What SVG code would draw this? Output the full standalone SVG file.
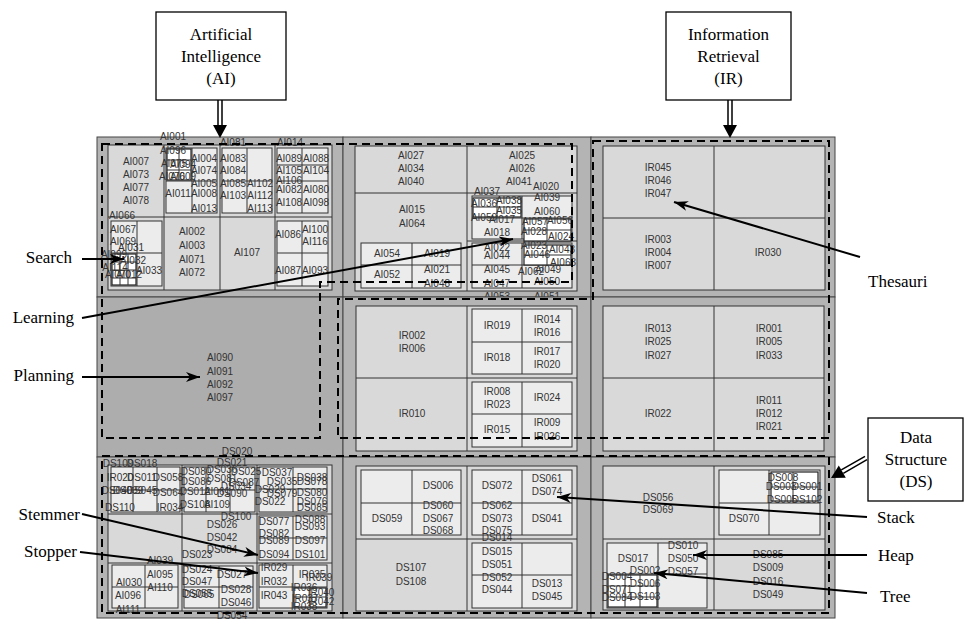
<svg xmlns="http://www.w3.org/2000/svg" width="965" height="619" viewBox="0 0 965 619">
<defs>
<style>
.c{fill:#b4b4b4;stroke:#444;stroke-width:1}
.q{fill:#d9d9d9;stroke:#333;stroke-width:1}
.s{fill:#ececec;stroke:#333;stroke-width:1}
.w{fill:#fff;stroke:#222;stroke-width:1.2}
.ln{fill:none;stroke:#333;stroke-width:1}
.t{font-family:"Liberation Sans",Arial,sans-serif;font-size:10px;fill:#333;text-anchor:middle}
.b{font-family:"Liberation Serif","Times New Roman",serif;font-size:17px;fill:#000}
.m{text-anchor:middle}
.e{text-anchor:end}
.box{fill:#fff;stroke:#000;stroke-width:1.3}
.dash{fill:none;stroke:#000;stroke-width:2;stroke-dasharray:8 5}
.con{fill:none;stroke:#000;stroke-width:2}
.dbl{fill:none;stroke:#000;stroke-width:1.5}
</style>
<marker id="ah" viewBox="0 0 14 10" refX="14" refY="5" markerWidth="14" markerHeight="10" markerUnits="userSpaceOnUse" orient="auto"><path d="M0,0 L14,5 L0,10 L4,5 z" fill="#000"/></marker>
</defs>
<rect width="965" height="619" fill="#fff"/>

<g id="label-ai">
<rect class="box" x="156" y="12" width="130" height="88"/>
<text class="b m" x="221" y="40">Artificial</text>
<text class="b m" x="221" y="62">Intelligence</text>
<text class="b m" x="221" y="84">(AI)</text>
</g>
<g id="label-ir">
<rect class="box" x="666" y="12" width="125" height="88"/>
<text class="b m" x="728.5" y="40">Information</text>
<text class="b m" x="728.5" y="62">Retrieval</text>
<text class="b m" x="728.5" y="84">(IR)</text>
</g>
<g id="label-ds">
<rect class="box" x="868" y="418" width="95" height="83"/>
<text class="b m" x="916" y="443">Data</text>
<text class="b m" x="916" y="465">Structure</text>
<text class="b m" x="916" y="487">(DS)</text>
</g>

<g id="cell-tl">
<rect class="c" x="97" y="137" width="246" height="160"/>
<rect class="q" x="108" y="145" width="224" height="145"/>
<path class="ln" d="M164,145V290M220,145V290M275,145V290M108,217H332"/>
<rect class="s" x="166" y="148" width="51" height="65"/>
<path class="ln" d="M192,148V213M166,181H217"/>
<rect class="w" x="167" y="149" width="24" height="31"/>
<path class="ln" d="M179,149V180M167,160H191M167,170H191"/>
<rect class="s" x="222" y="148" width="50" height="65"/>
<path class="ln" d="M247,148V213M222,181H272"/>
<rect class="s" x="277" y="148" width="51" height="65"/>
<path class="ln" d="M302,148V213M277,165H328M277,181H328"/>
<rect class="s" x="111" y="221" width="51" height="65"/>
<path class="ln" d="M137,221V286M111,253H162"/>
<rect class="w" x="112" y="254" width="24" height="31"/>
<path class="ln" d="M120,254V285M128,254V285M112,262H136M112,270H136M112,278H136"/>
<rect class="s" x="277" y="221" width="51" height="65"/>
<path class="ln" d="M302,221V286M277,253H328"/>
<text class="t" x="136" y="165">AI007</text><text class="t" x="136" y="178">AI073</text><text class="t" x="136" y="191">AI077</text><text class="t" x="136" y="204">AI078</text>
<text class="t" x="173" y="140">AI001</text><text class="t" x="173" y="154">AI096</text><text class="t" x="174" y="167">AI075</text><text class="t" x="183" y="168">AI094</text><text class="t" x="172" y="180">AI076</text><text class="t" x="183" y="180">AI009</text>
<text class="t" x="204" y="162">AI004</text><text class="t" x="204" y="174">AI074</text><text class="t" x="204" y="187">AI005</text><text class="t" x="178" y="197">AI011</text><text class="t" x="204" y="197">AI008</text><text class="t" x="204" y="212">AI013</text>
<text class="t" x="233" y="146">AI081</text><text class="t" x="233" y="162">AI083</text><text class="t" x="233" y="174">AI084</text><text class="t" x="233" y="187">AI085</text><text class="t" x="260" y="187">AI102</text><text class="t" x="233" y="199">AI103</text><text class="t" x="260" y="199">AI112</text><text class="t" x="260" y="212">AI113</text>
<text class="t" x="290" y="146">AI014</text><text class="t" x="289" y="162">AI089</text><text class="t" x="316" y="162">AI088</text><text class="t" x="289" y="174">AI105</text><text class="t" x="316" y="174">AI104</text><text class="t" x="289" y="184">AI106</text><text class="t" x="289" y="193">AI082</text><text class="t" x="316" y="193">AI080</text><text class="t" x="289" y="206">AI108</text><text class="t" x="316" y="206">AI098</text>
<text class="t" x="122" y="219">AI066</text><text class="t" x="123" y="233">AI067</text><text class="t" x="123" y="245">AI069</text><text class="t" x="131" y="251">AI031</text><text class="t" x="114" y="258">AI099</text><text class="t" x="133" y="264">AI032</text><text class="t" x="115" y="271">AI114</text><text class="t" x="149" y="274">AI033</text><text class="t" x="118" y="278">AI070</text><text class="t" x="129" y="278">AI012</text>
<text class="t" x="192" y="235">AI002</text><text class="t" x="192" y="249">AI003</text><text class="t" x="192" y="263">AI071</text><text class="t" x="192" y="276">AI072</text>
<text class="t" x="247" y="256">AI107</text>
<text class="t" x="288" y="238">AI086</text><text class="t" x="315" y="233">AI100</text><text class="t" x="315" y="245">AI116</text><text class="t" x="288" y="274">AI087</text><text class="t" x="315" y="274">AI093</text>
</g>

<g id="cell-tm">
<rect class="c" x="343" y="137" width="248" height="160"/>
<rect class="q" x="355" y="146" width="222" height="145"/>
<path class="ln" d="M467,146V291M355,193H577M467,241H577"/>
<rect class="s" x="361" y="243" width="100" height="45"/>
<path class="ln" d="M412,243V288M361,265H461"/>
<rect class="s" x="472" y="196" width="100" height="43"/>
<path class="ln" d="M522,196V239M472,218H572"/>
<rect class="w" x="473" y="198" width="48" height="19"/>
<path class="ln" d="M497,198V217M473,207H521"/>
<rect class="w" x="524" y="219" width="47" height="22"/>
<path class="ln" d="M547,219V241M524,230H571"/>
<rect class="s" x="472" y="243" width="100" height="45"/>
<path class="ln" d="M522,243V288M472,265H572"/>
<rect class="w" x="524" y="245" width="47" height="20"/>
<path class="ln" d="M547,245V265M524,255H571"/>
<text class="t" x="411" y="159">AI027</text><text class="t" x="411" y="172">AI034</text><text class="t" x="411" y="185">AI040</text>
<text class="t" x="522" y="159">AI025</text><text class="t" x="522" y="172">AI026</text><text class="t" x="519" y="185">AI041</text><text class="t" x="546" y="190">AI020</text>
<text class="t" x="412" y="213">AI015</text><text class="t" x="412" y="227">AI064</text>
<text class="t" x="387" y="257">AI054</text><text class="t" x="437" y="257">AI019</text><text class="t" x="387" y="278">AI052</text><text class="t" x="437" y="273">AI021</text><text class="t" x="437" y="287">AI048</text>
<text class="t" x="487" y="195">AI037</text><text class="t" x="484" y="207">AI036</text><text class="t" x="509" y="204">AI038</text><text class="t" x="509" y="214">AI035</text><text class="t" x="484" y="221">AI059</text><text class="t" x="502" y="223">AI017</text><text class="t" x="497" y="236">AI018</text>
<text class="t" x="547" y="201">AI039</text><text class="t" x="547" y="215">AI060</text>
<text class="t" x="535" y="225">AI057</text><text class="t" x="560" y="224">AI056</text><text class="t" x="534" y="235">AI028</text><text class="t" x="561" y="240">AI024</text>
<text class="t" x="497" y="251">AI022</text><text class="t" x="497" y="259">AI044</text><text class="t" x="497" y="273">AI045</text><text class="t" x="497" y="287">AI047</text><text class="t" x="497" y="300">AI053</text>
<text class="t" x="534" y="249">AI023</text><text class="t" x="562" y="253">AI043</text><text class="t" x="537" y="258">AI046</text><text class="t" x="563" y="266">AI063</text><text class="t" x="531" y="275">AI062</text><text class="t" x="548" y="273">AI049</text><text class="t" x="547" y="285">AI050</text><text class="t" x="547" y="300">AI051</text>
</g>

<g id="cell-tr">
<rect class="c" x="591" y="137" width="244" height="160"/>
<rect class="q" x="603" y="146" width="222" height="144"/>
<path class="ln" d="M714,146V290M603,218H825"/>
<text class="t" x="658" y="171">IR045</text><text class="t" x="658" y="184">IR046</text><text class="t" x="658" y="197">IR047</text>
<text class="t" x="658" y="243">IR003</text><text class="t" x="658" y="256">IR004</text><text class="t" x="658" y="269">IR007</text>
<text class="t" x="768" y="256">IR030</text>
</g>

<g id="cell-ml">
<rect class="c" x="97" y="297" width="246" height="160" style="fill:#adadad"/>
<text class="t" x="220" y="361">AI090</text><text class="t" x="220" y="375">AI091</text><text class="t" x="220" y="388">AI092</text><text class="t" x="220" y="401">AI097</text>
</g>

<g id="cell-mm">
<rect class="c" x="343" y="297" width="248" height="160"/>
<rect class="q" x="356" y="306" width="221" height="145"/>
<path class="ln" d="M467,306V451M356,378H577"/>
<rect class="s" x="472" y="309" width="100" height="65"/>
<path class="ln" d="M522,309V374M472,342H572"/>
<rect class="s" x="472" y="382" width="100" height="65"/>
<path class="ln" d="M522,382V447M472,414H572"/>
<text class="t" x="412" y="339">IR002</text><text class="t" x="412" y="352">IR006</text>
<text class="t" x="412" y="417">IR010</text>
<text class="t" x="497" y="329">IR019</text><text class="t" x="547" y="323">IR014</text><text class="t" x="547" y="336">IR016</text>
<text class="t" x="497" y="361">IR018</text><text class="t" x="547" y="355">IR017</text><text class="t" x="547" y="368">IR020</text>
<text class="t" x="497" y="395">IR008</text><text class="t" x="497" y="408">IR023</text><text class="t" x="547" y="401">IR024</text>
<text class="t" x="497" y="433">IR015</text><text class="t" x="547" y="426">IR009</text><text class="t" x="547" y="440">IR026</text>
</g>

<g id="cell-mr">
<rect class="c" x="591" y="297" width="244" height="160"/>
<rect class="q" x="603" y="306" width="221" height="145"/>
<path class="ln" d="M714,306V451M603,378H824"/>
<text class="t" x="658" y="332">IR013</text><text class="t" x="658" y="345">IR025</text><text class="t" x="658" y="359">IR027</text>
<text class="t" x="769" y="332">IR001</text><text class="t" x="769" y="345">IR005</text><text class="t" x="769" y="359">IR033</text>
<text class="t" x="658" y="417">IR022</text>
<text class="t" x="769" y="404">IR011</text><text class="t" x="769" y="417">IR012</text><text class="t" x="769" y="430">IR021</text>
</g>

<g id="cell-bl">
<rect class="c" x="97" y="457" width="246" height="161"/>
<rect class="q" x="108" y="465" width="224" height="146"/>
<path class="ln" d="M182,465V611M257,465V611M108,514H332M108,563H332"/>
<rect class="s" x="111" y="467" width="69" height="45"/>
<path class="ln" d="M133,467V512M157,467V512M111,490H180"/>
<rect class="s" x="112" y="565" width="66" height="43"/>
<path class="ln" d="M145,565V608M112,587H178"/>
<rect class="s" x="184" y="467" width="71" height="45"/>
<path class="ln" d="M206,467V512M230,467V512M184,490H255"/>
<rect class="s" x="184" y="566" width="69" height="42"/>
<path class="ln" d="M219,566V608M184,587H253"/>
<rect class="s" x="259" y="467" width="68" height="45"/>
<path class="ln" d="M293,467V512M259,489H327"/>
<rect class="s" x="259" y="516" width="68" height="44"/>
<path class="ln" d="M293,516V560M259,538H327"/>
<rect class="s" x="259" y="565" width="68" height="43"/>
<path class="ln" d="M293,565V608M259,587H327"/>
<rect class="w" x="294" y="588" width="32" height="19"/>
<path class="ln" d="M310,588V607M294,597H326"/>
<text class="t" x="237" y="455">DS020</text>
<text class="t" x="118" y="467">DS109</text><text class="t" x="142" y="467">DS018</text>
<text class="t" x="120" y="481">IR020</text><text class="t" x="142" y="481">DS011</text><text class="t" x="168" y="481">DS058</text>
<text class="t" x="117" y="494">DS040</text><text class="t" x="128" y="494">DS039</text><text class="t" x="142" y="494">DS045</text><text class="t" x="168" y="496">DS064</text>
<text class="t" x="120" y="511">DS110</text><text class="t" x="170" y="511">IR034</text>
<text class="t" x="232" y="466">DS021</text><text class="t" x="196" y="475">DS080</text><text class="t" x="222" y="473">DS036</text><text class="t" x="246" y="475">DS025</text>
<text class="t" x="196" y="485">DS086</text><text class="t" x="222" y="482">DS081</text><text class="t" x="244" y="486">DS087</text>
<text class="t" x="236" y="490">DS034</text><text class="t" x="195" y="495">DS012</text><text class="t" x="217" y="495">AI061</text><text class="t" x="232" y="497">DS090</text>
<text class="t" x="195" y="508">DS108</text><text class="t" x="217" y="508">AI109</text><text class="t" x="236" y="520">DS100</text>
<text class="t" x="222" y="528">DS026</text><text class="t" x="222" y="541">DS042</text><text class="t" x="222" y="553">DS084</text><text class="t" x="197" y="558">DS023</text>
<text class="t" x="197" y="573">DS024</text><text class="t" x="232" y="578">DS027</text><text class="t" x="197" y="585">DS047</text><text class="t" x="236" y="593">DS028</text>
<text class="t" x="197" y="597">DS055</text><text class="t" x="199" y="598">DS065</text><text class="t" x="236" y="606">DS046</text><text class="t" x="232" y="619">DS054</text>
<text class="t" x="160" y="564">AI039</text><text class="t" x="160" y="578">AI095</text><text class="t" x="129" y="586">AI030</text><text class="t" x="160" y="591">AI110</text><text class="t" x="128" y="599">AI096</text><text class="t" x="128" y="613">AI111</text>
<text class="t" x="277" y="476">DS037</text><text class="t" x="312" y="481">DS038</text><text class="t" x="312" y="485">DS078</text><text class="t" x="282" y="485">DS035</text>
<text class="t" x="270" y="493">DS029</text><text class="t" x="282" y="497">DS079</text><text class="t" x="270" y="505">DS022</text>
<text class="t" x="312" y="496">DS080</text><text class="t" x="312" y="505">DS076</text><text class="t" x="312" y="511">DS085</text>
<text class="t" x="274" y="525">DS077</text><text class="t" x="274" y="537">DS082</text><text class="t" x="274" y="544">DS089</text><text class="t" x="274" y="558">DS094</text>
<text class="t" x="310" y="523">DS088</text><text class="t" x="310" y="530">DS093</text><text class="t" x="310" y="544">DS097</text><text class="t" x="310" y="558">DS101</text>
<text class="t" x="274" y="571">IR029</text><text class="t" x="274" y="585">IR032</text><text class="t" x="274" y="599">IR043</text>
<text class="t" x="312" y="578">IR035</text><text class="t" x="319" y="581">IR039</text><text class="t" x="304" y="591">IR036</text><text class="t" x="321" y="596">IR040</text>
<text class="t" x="305" y="602">IR037</text><text class="t" x="321" y="605">IR042</text><text class="t" x="304" y="610">IR038</text>
</g>

<g id="cell-bm">
<rect class="c" x="343" y="457" width="248" height="161"/>
<rect class="q" x="356" y="466" width="221" height="145"/>
<path class="ln" d="M467,466V611M356,539H577"/>
<rect class="s" x="361" y="470" width="100" height="65"/>
<path class="ln" d="M412,470V535M361,503H461"/>
<rect class="s" x="472" y="470" width="100" height="65"/>
<path class="ln" d="M522,470V535M472,503H572"/>
<rect class="s" x="472" y="543" width="100" height="65"/>
<path class="ln" d="M522,543V608M472,575H572"/>
<text class="t" x="438" y="489">DS006</text><text class="t" x="438" y="509">DS060</text><text class="t" x="438" y="522">DS067</text><text class="t" x="438" y="534">DS068</text><text class="t" x="387" y="522">DS059</text>
<text class="t" x="497" y="489">DS072</text><text class="t" x="547" y="482">DS061</text><text class="t" x="547" y="495">DS074</text>
<text class="t" x="497" y="509">DS062</text><text class="t" x="497" y="522">DS073</text><text class="t" x="497" y="534">DS075</text><text class="t" x="547" y="522">DS041</text>
<text class="t" x="411" y="571">DS107</text><text class="t" x="411" y="585">DS108</text>
<text class="t" x="497" y="541">DS014</text><text class="t" x="497" y="555">DS015</text><text class="t" x="497" y="568">DS051</text><text class="t" x="497" y="581">DS052</text><text class="t" x="497" y="593">DS044</text>
<text class="t" x="547" y="587">DS013</text><text class="t" x="547" y="600">DS045</text>
</g>

<g id="cell-br">
<rect class="c" x="591" y="457" width="244" height="161"/>
<rect class="q" x="603" y="466" width="222" height="144"/>
<path class="ln" d="M714,466V610M603,539H825"/>
<rect class="s" x="719" y="470" width="101" height="65"/>
<path class="ln" d="M769,470V535M719,503H820"/>
<rect class="w" x="771" y="472" width="47" height="29"/>
<path class="ln" d="M793,472V501M771,487H818"/>
<rect class="s" x="607" y="543" width="100" height="65"/>
<path class="ln" d="M658,543V608M607,574H707"/>
<rect class="w" x="608" y="575" width="49" height="32"/>
<path class="ln" d="M625,575V607M640,575V607M608,586H657M608,597H657"/>
<text class="t" x="658" y="501">DS056</text><text class="t" x="658" y="513">DS069</text>
<text class="t" x="744" y="522">DS070</text>
<text class="t" x="783" y="481">DS008</text><text class="t" x="781" y="490">DS003</text><text class="t" x="807" y="490">DS001</text><text class="t" x="782" y="503">DS005</text><text class="t" x="807" y="503">DS102</text>
<text class="t" x="633" y="562">DS017</text><text class="t" x="683" y="549">DS010</text><text class="t" x="683" y="562">DS050</text><text class="t" x="683" y="575">DS057</text><text class="t" x="645" y="574">DS002</text>
<text class="t" x="617" y="580">DS004</text><text class="t" x="645" y="587">DS006</text><text class="t" x="617" y="593">DS071</text><text class="t" x="617" y="601">DS084</text><text class="t" x="645" y="600">DS103</text>
<text class="t" x="768" y="558">DS085</text><text class="t" x="768" y="571">DS009</text><text class="t" x="768" y="585">DS016</text><text class="t" x="768" y="598">DS049</text>
</g>

<g id="regions">
<path class="dash" d="M102,144H572V282H320V438H102Z"/>
<path class="dash" d="M593,141H829V438H338V299H593Z"/>
<rect class="dash" x="102" y="456" width="727" height="157"/>
</g>

<g id="connectors">
<path class="dbl" d="M218,100V126M222,100V126"/>
<path d="M213,125H227L220,138Z" fill="#000"/>
<path class="dbl" d="M728,100V126M732,100V126"/>
<path d="M723,125H737L730,138Z" fill="#000"/>
<path class="dbl" d="M867,459.7L843.3,473.3M865,456.3L841.3,469.9"/>
<path d="M845.8,477.7L838.8,465.5L831,478Z" fill="#000"/>
<path class="con" marker-end="url(#ah)" d="M82,259H124"/>
<path class="con" marker-end="url(#ah)" d="M82,318L513,239"/>
<path class="con" marker-end="url(#ah)" d="M82,377H200"/>
<path class="con" marker-end="url(#ah)" d="M82,514L258,555"/>
<path class="con" marker-end="url(#ah)" d="M80,552L258,573"/>
<path class="con" marker-end="url(#ah)" d="M860,257L674,202"/>
<path class="con" marker-end="url(#ah)" d="M867,517L557,497"/>
<path class="con" marker-end="url(#ah)" d="M867,555H693"/>
<path class="con" marker-end="url(#ah)" d="M867,593L654,573"/>
</g>

<g id="side-labels">
<text class="b e" x="72" y="263">Search</text>
<text class="b e" x="74" y="323">Learning</text>
<text class="b e" x="74" y="381">Planning</text>
<text class="b e" x="80" y="520">Stemmer</text>
<text class="b e" x="77" y="557">Stopper</text>
<text class="b" x="868" y="287">Thesauri</text>
<text class="b" x="877" y="523">Stack</text>
<text class="b" x="878" y="561">Heap</text>
<text class="b" x="880" y="602">Tree</text>
</g>
</svg>
